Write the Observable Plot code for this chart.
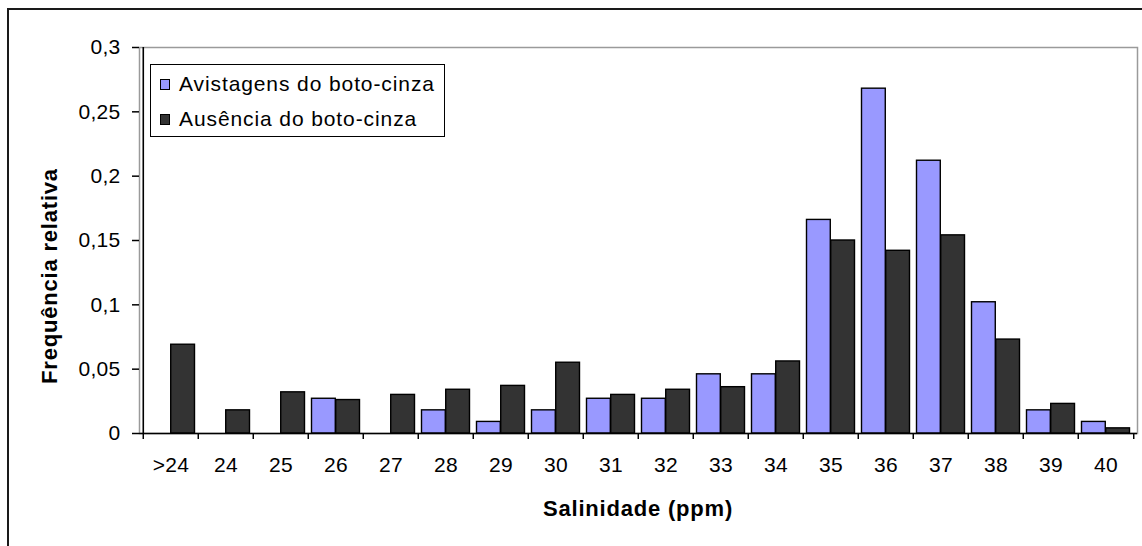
<!DOCTYPE html>
<html>
<head>
<meta charset="utf-8">
<script src="https://cdn.jsdelivr.net/npm/d3@7"></script>
<script src="https://cdn.jsdelivr.net/npm/@observablehq/plot@0.6"></script>
<style>
  body { margin: 0; background: #fff; overflow: hidden; }
  #wrap { position: relative; width: 1142px; height: 546px; overflow: hidden; background: #fff;
          font-family: "Liberation Sans", Arial, sans-serif; color: #000; }
  #border { position: absolute; left: 7px; top: 8px; width: 2000px; height: 2000px;
            border-left: 2px solid #1a1a1a; border-top: 2px solid #1a1a1a; pointer-events: none; }
  #chart { position: absolute; left: 0; top: 0; }
  #legend { position: absolute; left: 150px; top: 64px; width: 293px; height: 71px;
            border: 1.5px solid #000; background: #fff; font-size: 21px; letter-spacing: 0.9px; }
  .item { position: absolute; left: 9px; display: flex; align-items: center; white-space: nowrap; }
  .sw { width: 8px; height: 9px; border: 1.5px solid #000; margin-right: 9px; }
  .title { position: absolute; font-weight: bold; font-size: 22px; letter-spacing: 0.8px; white-space: nowrap; }
</style>
</head>
<body>
<div id="wrap"><div id="border"></div><div id="chart"></div></div>
<script>
const categories = [">24","24","25","26","27","28","29","30","31","32","33","34","35","36","37","38","39","40"];
const seriesNames = ["Avistagens do boto-cinza", "Ausência do boto-cinza"];
const seriesColors = ["#9999ff", "#333333"];
const avistagens = [0, 0, 0, 0.027, 0, 0.018, 0.009, 0.018, 0.027, 0.027, 0.046, 0.046, 0.166, 0.268, 0.212, 0.102, 0.018, 0.009];
const ausencia   = [0.069, 0.018, 0.032, 0.026, 0.030, 0.034, 0.037, 0.055, 0.030, 0.034, 0.036, 0.056, 0.150, 0.142, 0.154, 0.073, 0.023, 0.004];
const yTicks = [0, 0.05, 0.1, 0.15, 0.2, 0.25, 0.3];
const yTickLabels = ["0", "0,05", "0,1", "0,15", "0,2", "0,25", "0,3"];
const xTitle = "Salinidade (ppm)";
const yTitle = "Frequência relativa";

const rows = categories.flatMap((c, i) => [
  {cat: c, series: seriesNames[0], value: avistagens[i]},
  {cat: c, series: seriesNames[1], value: ausencia[i]}
]);

const W = 1142, H = 546, mL = 139, mR = 5, mT = 47, mB = 113;
const bw = (W - mL - mR) / categories.length;
const half = bw / 2, gap = 3.5;
const font = "'Liberation Sans', Arial, sans-serif";

const chart = Plot.plot({
  width: W, height: H,
  marginLeft: mL, marginRight: mR, marginTop: mT, marginBottom: mB,
  style: {fontFamily: font, fontSize: "21px", background: "transparent", color: "#000", letterSpacing: "0.3px"},
  x: {type: "band", domain: categories, padding: 0, axis: null},
  y: {domain: [0, 0.3], axis: null},
  marks: [
    Plot.frame({stroke: "#9a9a9a", strokeWidth: 1.5}),
    Plot.barY(rows.filter(d => d.series === seriesNames[0] && d.value > 0), {
      x: "cat", y: "value", fill: seriesColors[0], stroke: "#000", strokeWidth: 1.4,
      insetLeft: gap, insetRight: half
    }),
    Plot.barY(rows.filter(d => d.series === seriesNames[1] && d.value > 0), {
      x: "cat", y: "value", fill: seriesColors[1], stroke: "#000", strokeWidth: 1.4,
      insetLeft: half, insetRight: gap
    }),
    Plot.ruleY([0], {stroke: "#000", strokeWidth: 1.6}),
    Plot.ruleX([categories[0]], {dx: -half, stroke: "#000", strokeWidth: 1.6}),
    Plot.axisY({ticks: yTicks, tickFormat: d => yTickLabels[yTicks.indexOf(d)],
      tickSize: 7, tickPadding: 12, stroke: "#000", strokeWidth: 1.5, fontSize: 21, label: null}),
    Plot.axisX({tickSize: 0, tickPadding: 24, fontSize: 21, label: null}),
    Plot.axisX({tickSize: 6, tickFormat: () => "", dx: -half, stroke: "#000", strokeWidth: 1.5, label: null}),
    Plot.axisX([categories[categories.length - 1]], {tickSize: 6, tickFormat: () => "", dx: half, stroke: "#000", strokeWidth: 1.5, label: null})
  ]
});
document.getElementById("chart").appendChild(chart);

const wrap = document.getElementById("wrap");
const legend = document.createElement("div");
legend.id = "legend";
seriesNames.forEach((name, i) => {
  const it = document.createElement("div");
  it.className = "item";
  it.style.top = (i === 0 ? 7 : 42) + "px";
  const sw = document.createElement("div");
  sw.className = "sw";
  sw.style.background = seriesColors[i];
  const tx = document.createElement("span");
  tx.textContent = name;
  it.appendChild(sw); it.appendChild(tx);
  legend.appendChild(it);
});
wrap.appendChild(legend);

const xt = document.createElement("div");
xt.className = "title";
xt.textContent = xTitle;
xt.style.left = "638px"; xt.style.top = "509px";
xt.style.transform = "translate(-50%, -50%)";
wrap.appendChild(xt);

const yt = document.createElement("div");
yt.className = "title";
yt.textContent = yTitle;
yt.style.left = "50px"; yt.style.top = "276px";
yt.style.transform = "translate(-50%, -50%) rotate(-90deg)";
wrap.appendChild(yt);
</script>
</body>
</html>
